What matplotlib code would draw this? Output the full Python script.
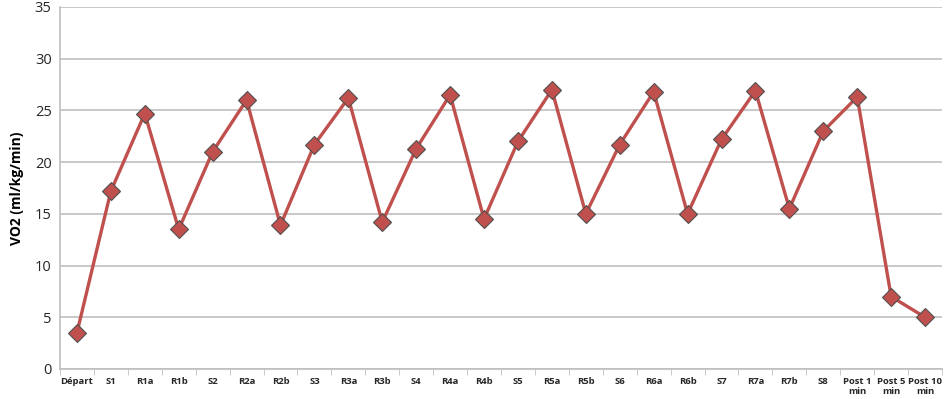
import matplotlib.pyplot as plt
import numpy as np

plt.rcParams['font.family'] = ['Open Sans', 'DejaVu Sans']

labels = ['Départ', 'S1', 'R1a', 'R1b', 'S2', 'R2a', 'R2b', 'S3', 'R3a', 'R3b',
          'S4', 'R4a', 'R4b', 'S5', 'R5a', 'R5b', 'S6', 'R6a', 'R6b', 'S7',
          'R7a', 'R7b', 'S8', 'Post 1\nmin', 'Post 5\nmin', 'Post 10\nmin']
vo2 = [3.5, 17.2, 24.7, 13.5, 21.0, 26.0, 13.9, 21.7, 26.2, 14.2,
       21.3, 26.5, 14.5, 22.0, 27.0, 15.0, 21.7, 26.8, 15.0, 22.2,
       26.9, 15.5, 23.0, 26.3, 7.0, 5.0]

red = '#C0504D'
grid = '#BFBFBF'

fig = plt.figure(figsize=(9.46, 3.99), dpi=100)
ax = fig.add_axes([0.0634, 0.0752, 0.9324, 0.9073])

x = np.arange(len(vo2))
ax.plot(x, vo2, color=red, linewidth=2.4, marker='D', markersize=9,
        markerfacecolor=red, markeredgecolor='#505050', markeredgewidth=0.8,
        zorder=3)

ax.set_xlim(-0.5, len(vo2) - 0.5)
ax.set_ylim(0, 35)
ax.set_yticks(np.arange(0, 36, 5))
ax.yaxis.grid(True, color=grid, linewidth=1.2)
ax.set_axisbelow(True)

# category labels centred, ticks at the boundaries
ax.set_xticks(x)
ax.set_xticklabels(labels, fontsize=6.8, fontweight='bold', color='#262626',
                   linespacing=1.1)
ax.tick_params(axis='x', which='major', length=0, pad=6)
ax.set_xticks(np.arange(-0.5, len(vo2), 1), minor=True)
ax.tick_params(axis='x', which='minor', length=4, color=grid, direction='out')
ax.tick_params(axis='y', length=0, labelsize=10.5, colors='#262626', pad=6)

for s in ['top', 'right']:
    ax.spines[s].set_visible(False)
for s in ['left', 'bottom']:
    ax.spines[s].set_color(grid)
    ax.spines[s].set_linewidth(1.2)

ax.set_ylabel('VO2 (ml/kg/min)', fontsize=10, fontweight='bold', labelpad=8)

plt.savefig('out.png', dpi=100)
